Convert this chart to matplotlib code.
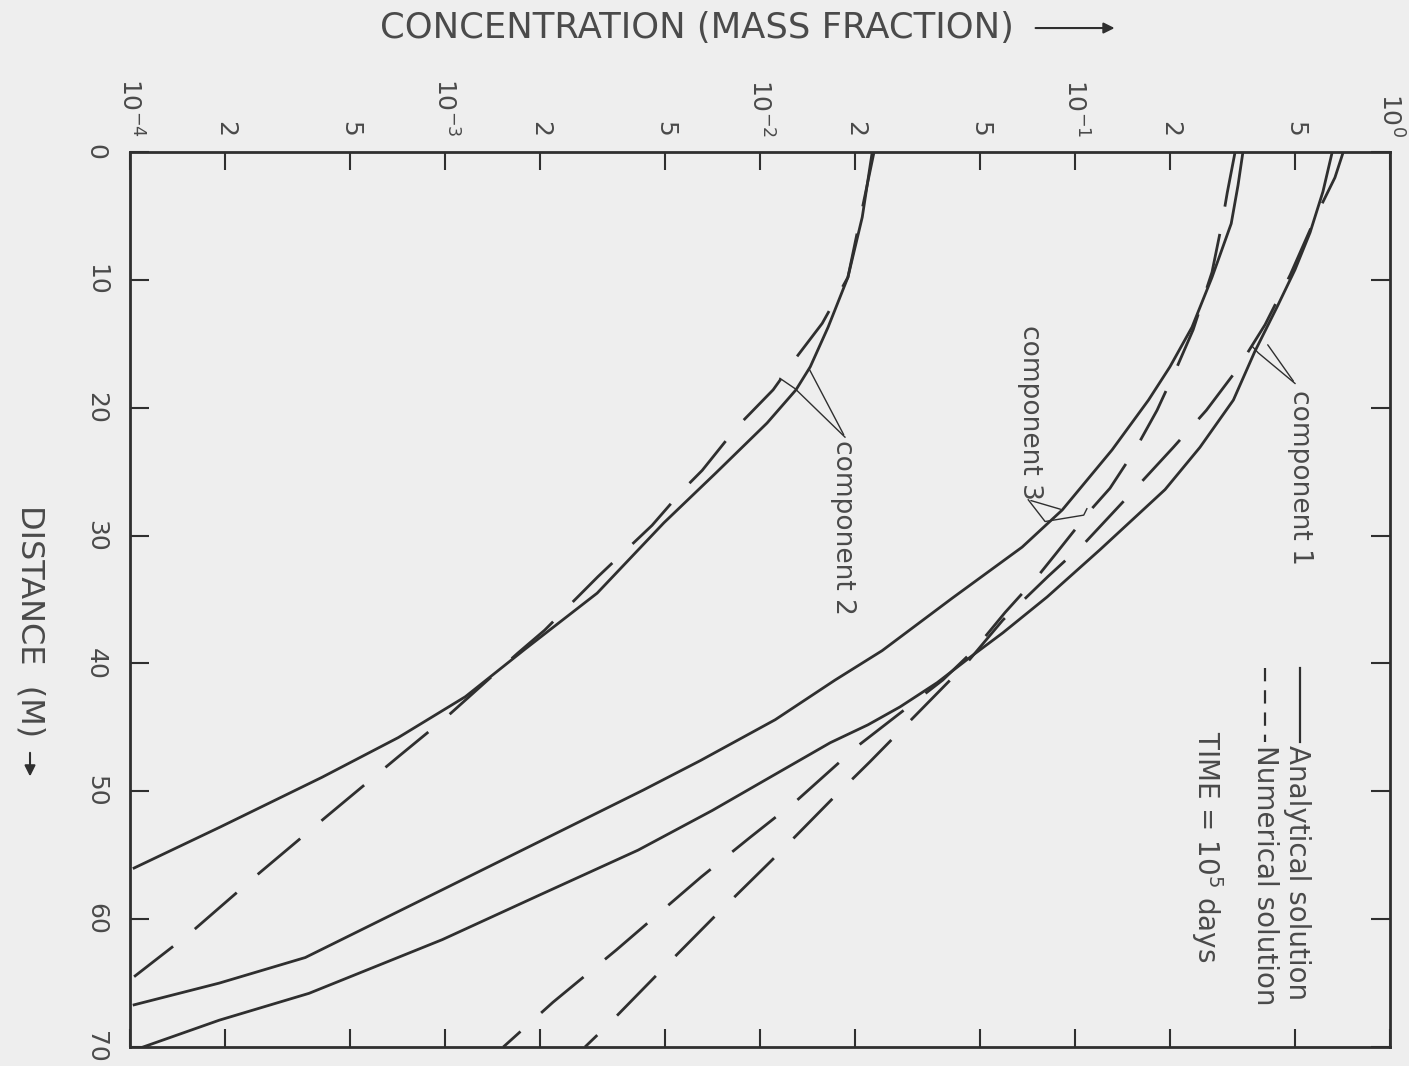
import matplotlib.pyplot as plt
from matplotlib.patches import FancyArrowPatch
from matplotlib.ticker import NullLocator

# Concentration profiles at time = 1e5 days.
# Distance in metres, concentration as mass fraction.

# component 1
dist_an1 = [0, 3.1, 6.3, 9.2, 12.1, 15.6, 19.4, 23.1, 26.4, 31.1, 34.8, 37.6, 39.5, 41.5, 43.4, 44.8, 46.2, 48.9,
            51.5, 54.6, 58.1, 61.6, 65.8, 67.9, 70.0]
conc_an1 = [0.655, 0.612, 0.557, 0.499, 0.438, 0.372, 0.318, 0.249, 0.193, 0.120, 0.0815, 0.059, 0.0465, 0.0365,
            0.0278, 0.0220, 0.0167, 0.01076, 0.00705, 0.0041, 0.0020, 9.8e-4, 3.7e-4, 1.92e-4, 1.1e-4]
dist_num1 = [0, 2.0, 4.7, 9.6, 13.5, 17.0, 20.2, 23.1, 27.2, 30.5, 33.2, 36.6, 40.1, 47.7, 50.5, 55.1, 59.9, 64.2, 68.1, 70.0]
conc_num1 = [0.710, 0.668, 0.590, 0.482, 0.401, 0.327, 0.261, 0.205, 0.144, 0.108, 0.082, 0.059, 0.0448, 0.0223, 0.0171,
             0.0112, 0.0071, 0.00477, 0.00334, 0.00278]

# component 2
dist_an2 = [0, 5.1, 9.8, 13.7, 16.8, 18.6, 21.2, 25.1, 29.0, 34.5, 38.9, 42.6, 45.8, 48.9, 52.8, 56.0]
conc_an2 = [0.0227, 0.0211, 0.0190, 0.01644, 0.01443, 0.0130, 0.01052, 0.00724, 0.00495, 0.00304, 0.00179, 0.00116,
            7.1e-4, 4.07e-4, 1.93e-4, 1.03e-4]
dist_num2 = [0, 9.8, 13.4, 16.0, 18.6, 21.5, 24.9, 26.4, 29.2, 33.2, 37.4, 39.2, 44.2, 47.3, 52.0, 56.4, 61.1, 64.5]
conc_num2 = [0.0230, 0.0190, 0.01575, 0.01309, 0.0110, 0.00845, 0.00655, 0.0057, 0.00454, 0.00306, 0.00207, 0.0017,
             0.00101, 7.1e-4, 4.19e-4, 2.57e-4, 1.55e-4, 1.03e-4]

# component 3
dist_an3 = [0, 2.6, 5.6, 9.8, 13.7, 16.8, 19.4, 23.3, 28.0, 30.9, 34.9, 39.0, 41.3, 44.4, 47.6, 49.9, 57.7, 63.0, 65.0,
            66.7]
conc_an3 = [0.341, 0.329, 0.313, 0.272, 0.235, 0.200, 0.171, 0.131, 0.091, 0.0679, 0.0407, 0.0244, 0.0173, 0.01117,
            0.00646, 0.00426, 9.8e-4, 3.6e-4, 1.92e-4, 1.03e-4]
dist_num3 = [0, 3.2, 5.5, 9.4, 13.9, 17.0, 20.2, 23.3, 26.3, 28.0, 31.4, 33.2, 36.0, 38.9, 41.3, 46.5, 50.7, 53.6, 56.7,
             62.4, 66.5, 70.0]
conc_num3 = [0.322, 0.304, 0.293, 0.272, 0.237, 0.209, 0.182, 0.155, 0.129, 0.112, 0.087, 0.076, 0.060, 0.048, 0.038,
             0.0203, 0.0131, 0.0093, 0.0065, 0.0035, 0.0022, 0.00153]

conc_ticks = [1e-4, 2e-4, 5e-4, 1e-3, 2e-3, 5e-3, 1e-2, 2e-2, 5e-2, 1e-1, 2e-1, 5e-1, 1]
conc_labels = ['$10^{-4}$', '2', '5', '$10^{-3}$', '2', '5', '$10^{-2}$', '2', '5', '$10^{-1}$', '2', '5', '$10^{0}$']
dist_ticks = [0, 10, 20, 30, 40, 50, 60, 70]
dist_labels = ['0', '10', '20', '30', '40', '50', '60', '70']

paper = '#eeeeee'
ink = '#2f2f2f'
txt = '#4a4a4a'

fig = plt.figure(figsize=(14.09, 10.66), dpi=100, facecolor=paper)
# the page is printed sideways: distance runs down, concentration runs right
ax = fig.add_axes([0.0923, 0.0178, 0.8943, 0.8396], facecolor=paper)

for d, c in [(dist_an1, conc_an1), (dist_an2, conc_an2), (dist_an3, conc_an3)]:
    ax.plot(c, d, color=ink, lw=2.0, solid_joinstyle='round')
for d, c in [(dist_num1, conc_num1), (dist_num2, conc_num2), (dist_num3, conc_num3)]:
    ln, = ax.plot(c, d, color=ink, lw=2.0)
    ln.set_dashes([20, 10])

ax.set_xscale('log')
ax.set_xlim(1e-4, 1)
ax.set_ylim(70, 0)
ax.set_xticks(conc_ticks)
ax.set_xticklabels(conc_labels)
ax.xaxis.set_minor_locator(NullLocator())
ax.set_yticks(dist_ticks)
ax.set_yticklabels(dist_labels)

ax.tick_params(axis='x', direction='in', top=True, bottom=True, labeltop=True, labelbottom=False,
               length=13, width=1.5, pad=11, labelsize=18, labelrotation=-90, color=ink, labelcolor=txt)
ax.tick_params(axis='y', direction='in', left=True, right=True, labelleft=True, labelright=False,
               length=14, width=1.5, pad=16, labelsize=18, labelrotation=-90, color=ink, labelcolor=txt)
for lab in ax.get_yticklabels():
    lab.set_va('center')
for sp in ax.spines.values():
    sp.set_linewidth(2.0)
    sp.set_color(ink)

# curve labels with their pointer lines
ax.text(0.518, 18.6, 'component 1', rotation=-90, ha='center', va='top', fontsize=19, color=txt)
ax.annotate('', xy=(0.404, 14.9), xytext=(0.499, 18.1), arrowprops=dict(arrowstyle='-', color=ink, lw=1.0))
ax.plot([0.499, 0.381, 0.365], [18.1, 15.7, 15.2], color=ink, lw=1.0)

ax.text(0.0183, 22.5, 'component 2', rotation=-90, ha='center', va='top', fontsize=19, color=txt)
ax.annotate('', xy=(0.0142, 16.8), xytext=(0.0186, 22.3), arrowprops=dict(arrowstyle='-', color=ink, lw=1.0))
ax.plot([0.0186, 0.0129, 0.01156], [22.3, 18.5, 17.7], color=ink, lw=1.0)

ax.text(0.0719, 13.5, 'component 3', rotation=-90, ha='center', va='top', fontsize=19, color=txt)
ax.annotate('', xy=(0.0916, 28.0), xytext=(0.0710, 27.2), arrowprops=dict(arrowstyle='-', color=ink, lw=1.0))
ax.plot([0.0710, 0.0803, 0.1065, 0.109], [27.2, 28.9, 28.4, 27.9], color=ink, lw=1.0)

# hand-drawn legend
ax.plot([0.9286, 0.9286], [0.4235, 0.3408], transform=ax.transAxes, color=ink, lw=1.6)
leg_dash, = ax.plot([0.9008, 0.9008], [0.4235, 0.3408], transform=ax.transAxes, color=ink, lw=1.6)
leg_dash.set_dashes([6, 4])
ax.text(0.9262, 0.3374, 'Analytical solution', transform=ax.transAxes, rotation=-90,
        ha='center', va='top', fontsize=20, color=txt)
ax.text(0.9008, 0.3374, 'Numerical solution', transform=ax.transAxes, rotation=-90,
        ha='center', va='top', fontsize=20, color=txt)
ax.text(0.855, 0.3531, 'TIME = 10$^5$ days', transform=ax.transAxes, rotation=-90,
        ha='center', va='top', fontsize=20, color=txt)

# axis titles with their arrows
fig.text(0.2697, 0.9737, 'CONCENTRATION (MASS FRACTION)', ha='left', va='center', fontsize=25.5, color=txt)
fig.patches.append(FancyArrowPatch((0.733, 0.9737), (0.793, 0.9737), transform=fig.transFigure,
                                   arrowstyle='-|>', mutation_scale=16, color=ink, lw=1.5))
fig.text(0.0213, 0.5263, 'DISTANCE  (M)', rotation=-90, ha='center', va='top', fontsize=23, color=txt)
fig.patches.append(FancyArrowPatch((0.0213, 0.2964), (0.0213, 0.2690), transform=fig.transFigure,
                                   arrowstyle='-|>', mutation_scale=16, color=ink, lw=1.5))

fig.savefig('out.png', dpi=100, facecolor=fig.get_facecolor())
